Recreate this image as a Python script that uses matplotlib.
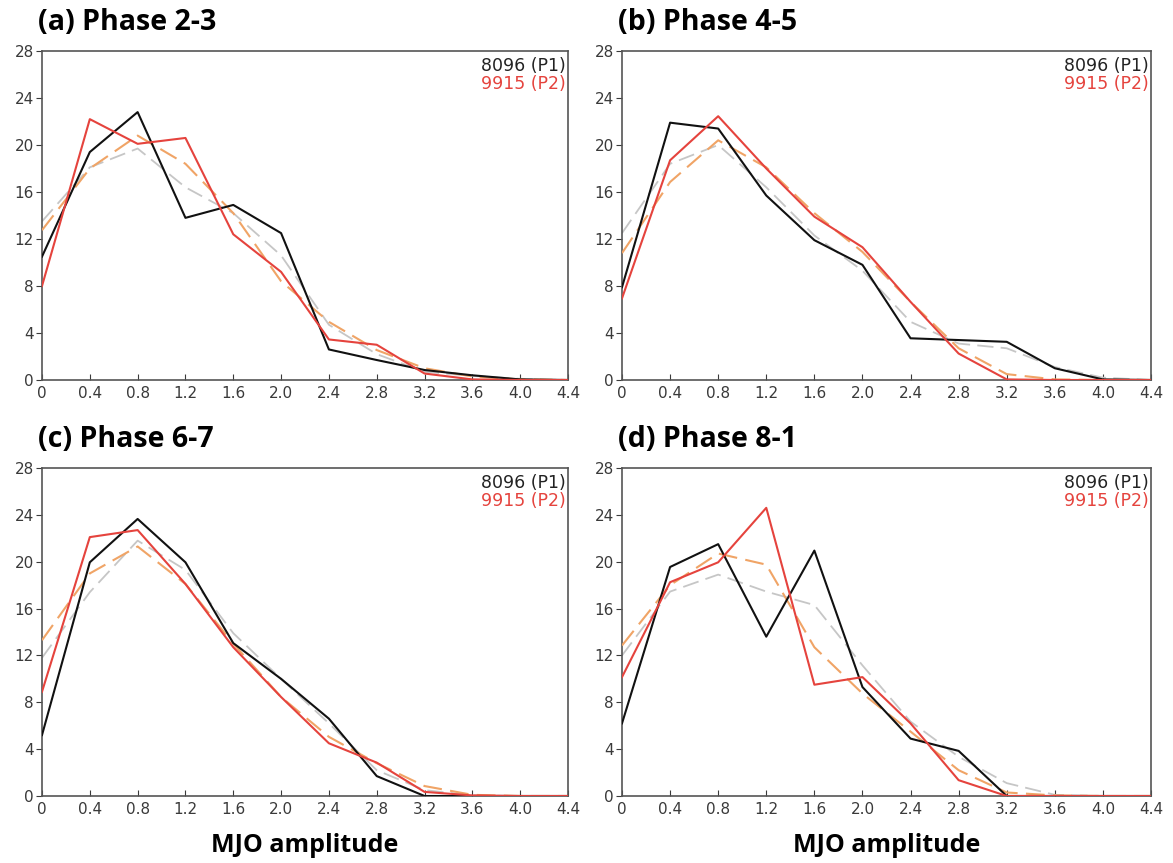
"""MJO amplitude distributions for four phase groups, P1 vs P2."""

import matplotlib

matplotlib.use("Agg")
import matplotlib.pyplot as plt

amplitude = [0.0, 0.4, 0.8, 1.2, 1.6, 2.0, 2.4, 2.8, 3.2, 3.6, 4.0, 4.4]
x_tick_labels = ["0", "0.4", "0.8", "1.2", "1.6", "2.0", "2.4", "2.8", "3.2", "3.6", "4.0", "4.4"]
y_ticks = [0, 4, 8, 12, 16, 20, 24, 28]

panel_titles = ["(a) Phase 2-3", "(b) Phase 4-5", "(c) Phase 6-7", "(d) Phase 8-1"]

# 8096 (P1), black solid
p1_values = [
    [10.5, 19.4, 22.8, 13.8, 14.9, 12.5, 2.6, 1.7, 0.85, 0.4, 0.05, 0.0],
    [7.9, 21.9, 21.4, 15.7, 11.9, 9.8, 3.55, 3.4, 3.25, 1.0, 0.05, 0.0],
    [5.2, 19.95, 23.65, 19.95, 13.05, 10.0, 6.6, 1.7, 0.0, 0.0, 0.0, 0.0],
    [6.2, 19.55, 21.5, 13.6, 20.95, 9.3, 4.9, 3.85, 0.0, 0.0, 0.0, 0.0],
]
# 9915 (P2), red solid
p2_values = [
    [8.0, 22.2, 20.1, 20.6, 12.4, 9.2, 3.45, 3.0, 0.55, 0.05, 0.0, 0.0],
    [6.95, 18.7, 22.45, 18.0, 13.9, 11.3, 6.65, 2.25, 0.05, 0.0, 0.0, 0.0],
    [8.9, 22.1, 22.7, 18.1, 12.7, 8.45, 4.5, 2.85, 0.35, 0.05, 0.0, 0.0],
    [10.15, 18.25, 19.95, 24.6, 9.5, 10.15, 6.2, 1.35, 0.0, 0.0, 0.0, 0.0],
]
# orange dashed
orange_values = [
    [12.75, 18.0, 20.8, 18.4, 14.2, 8.4, 4.95, 2.55, 1.0, 0.3, 0.05, 0.0],
    [10.8, 16.85, 20.4, 18.1, 14.2, 10.9, 6.65, 2.7, 0.5, 0.05, 0.0, 0.0],
    [13.3, 19.0, 21.3, 18.1, 13.0, 8.45, 5.05, 2.8, 0.85, 0.1, 0.0, 0.0],
    [12.85, 18.0, 20.7, 19.75, 12.7, 8.75, 5.5, 2.2, 0.3, 0.05, 0.0, 0.0],
]
# grey dashed
grey_values = [
    [13.5, 18.1, 19.7, 16.4, 14.2, 10.6, 4.7, 2.2, 0.7, 0.35, 0.1, 0.0],
    [12.5, 18.4, 20.0, 16.4, 12.3, 9.3, 4.95, 3.1, 2.7, 1.1, 0.2, 0.0],
    [11.8, 17.4, 21.8, 19.3, 13.9, 10.0, 6.2, 2.2, 0.5, 0.05, 0.0, 0.0],
    [12.0, 17.45, 18.9, 17.45, 16.3, 11.15, 6.35, 3.35, 1.1, 0.1, 0.0, 0.0],
]

BLACK = "#111111"
RED = "#e5433d"
ORANGE = "#f0a466"
GREY = "#c6c6c6"
TICK_COLOR = "#3a3a3a"

W, H = 1173, 863
# axes boxes in pixels: left, top, right, bottom
boxes = [
    (42, 51, 568, 380),
    (622, 51, 1151, 380),
    (42, 468, 568, 796),
    (622, 468, 1151, 796),
]

fig = plt.figure(figsize=(W / 100, H / 100), dpi=100)

for i, (l, t, r, b) in enumerate(boxes):
    ax = fig.add_axes([l / W, 1 - b / H, (r - l) / W, (b - t) / H])

    ax.plot(amplitude, grey_values[i], color=GREY, lw=1.3, dashes=(9, 4), zorder=2)
    ax.plot(amplitude, orange_values[i], color=ORANGE, lw=1.5, dashes=(9, 4), zorder=3)
    ax.plot(amplitude, p1_values[i], color=BLACK, lw=1.5, zorder=4)
    ax.plot(amplitude, p2_values[i], color=RED, lw=1.5, zorder=5)

    ax.set_xlim(0, 4.4)
    ax.set_ylim(0, 28)
    ax.set_xticks(amplitude)
    ax.set_xticklabels(x_tick_labels)
    ax.set_yticks(y_ticks)
    ax.tick_params(axis="x", direction="in", length=4, pad=4, labelsize=11,
                   colors=TICK_COLOR)
    ax.tick_params(axis="y", direction="out", length=4, pad=2, labelsize=11,
                   colors=TICK_COLOR)
    for spine in ax.spines.values():
        spine.set_color("#555555")
        spine.set_linewidth(1.2)

    ax.text(0.995, 0.955, "8096 (P1)", transform=ax.transAxes, ha="right",
            va="center", fontsize=12.5, color="#222222")
    ax.text(0.995, 0.9, "9915 (P2)", transform=ax.transAxes, ha="right",
            va="center", fontsize=12.5, color=RED)

    fig.text((l - 4) / W, 1 - 22 / H - (t - 51) / H, panel_titles[i],
             ha="left", va="center", fontsize=20.5, fontweight="bold",
             family="Open Sans")

    if i >= 2:
        fig.text((l + r) / 2 / W, 1 - 845 / H, "MJO amplitude", ha="center",
                 va="center", fontsize=18, fontweight="bold", family="Open Sans")

fig.savefig("out.png", dpi=100, facecolor="white")
plt.close(fig)
